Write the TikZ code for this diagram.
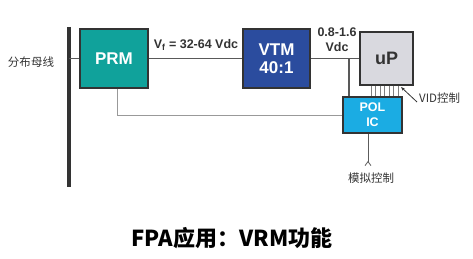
\documentclass[tikz,border=0pt]{standalone}
\usepackage{fontspec}
\setmainfont{Liberation Sans}
\newfontfamily\cjk{Noto Sans CJK SC}
\usepackage{tikz}
\usetikzlibrary{arrows.meta, positioning, calc}
\usepackage{xcolor}
\definecolor{prmteal}{HTML}{10A29B}
\definecolor{vtmblue}{HTML}{2B4C9E}
\definecolor{upgray}{HTML}{D9D9DF}
\definecolor{polcyan}{HTML}{1BACE3}
\definecolor{edgegray}{HTML}{333333}

\begin{document}
\begin{tikzpicture}[
    x=1pt, y=-1pt,
    block/.style = {rectangle, draw=edgegray, line width=1.3pt, align=center, font=\bfseries\fontsize{17}{18}\selectfont, inner sep=0pt},
    label/.style = {align=center, font=\bfseries\fontsize{12.5}{15}\selectfont, text=edgegray, inner sep=0pt},
    cjklabel/.style = {font=\cjk\fontsize{11.5}{13}\selectfont, text=edgegray, inner sep=0pt},
    wire/.style = {draw=gray!70!black, line width=1.1pt},
    loopwire/.style = {draw=gray!80, line width=0.9pt},
    vidwire/.style = {draw=gray, line width=0.6pt}
]
\useasboundingbox (0,0) rectangle (473,259);

% Bus
\coordinate (bustop) at (69,27);
\coordinate (busbot) at (69,187);
\draw [edgegray, line width=3.5pt] (bustop) -- (busbot);
\node (buslbl) [cjklabel] at (31,62) {分布母线};

% Boxes
\node (prm) [block, fill=prmteal, text=white, minimum width=68, minimum height=59] at (114,58.5) {PRM};
\node (vtm) [block, fill=vtmblue, text=white, minimum width=67, minimum height=59] at (276.5,58.5) {VTM\\40:1};
\node (up) [block, fill=upgray, text=edgegray, minimum width=53, minimum height=53, font=\bfseries\fontsize{18}{19}\selectfont] at (386.5,58.5) {uP};
\node (pol) [block, fill=polcyan, text=white, minimum width=59, minimum height=36, font=\bfseries\fontsize{12.5}{15}\selectfont] at (372.5,115) {POL\\IC};

% Labels
\node (vflbl) [label] at (196,45) {V$_\mathbf{f}$ = 32-64 Vdc};
\node (vdclbl) [label] at (337,40) {0.8-1.6\\Vdc};
\node (vidlbl) [cjklabel, anchor=west] at (419,98) {VID控制};
\node (anlbl) [cjklabel] at (371,178) {模拟控制};
\node (caption) [font=\cjk\bfseries\fontsize{22}{24}\selectfont, text=black] at (232,238) {FPA应用：VRM功能};

% Connectors
\coordinate (tap) at (349,58.5);
\coordinate (vidpt) at (401,87);
\coordinate (anin) at (368,166);
\draw [wire] (prm.west) -- (prm.west -| bustop);
\draw [wire] (prm) -- (vtm);
\draw [wire] (vtm) -- (up);
\draw [wire] (tap) -- (tap |- pol.north);
\draw [loopwire] ([xshift=3pt]prm.south) |- (pol.west);
\foreach \i in {0,...,6}
    \draw [vidwire] ([xshift=\i*4.5pt-15.5pt]up.south) -- ([xshift=\i*4.5pt-15.5pt]up.south |- pol.north);
\draw [edgegray, line width=0.8pt, -{Stealth[length=4pt,width=3pt]}] ([xshift=-2pt,yshift=-4pt]vidlbl.west) -- (vidpt);
\draw [edgegray!80, line width=0.8pt, -{Straight Barb[reversed, length=4pt, width=6pt]}] ([xshift=-4.5pt]pol.south) -- (anin);

\end{tikzpicture}
\end{document}
